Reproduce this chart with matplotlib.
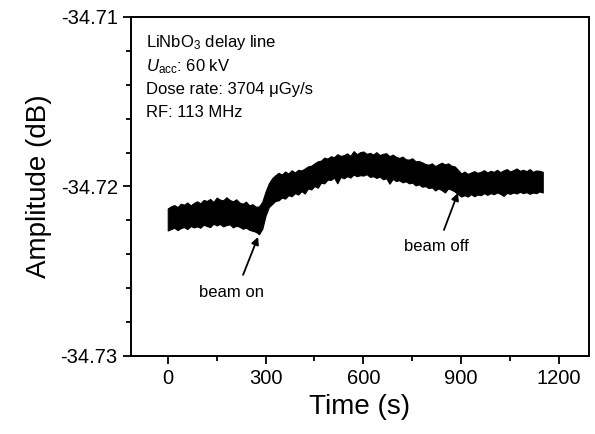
import matplotlib
matplotlib.use("Agg")
import matplotlib.pyplot as plt
import numpy as np
from matplotlib.ticker import MultipleLocator

plt.rcParams['font.family'] = ['Liberation Sans', 'DejaVu Sans']
plt.rcParams['mathtext.fontset'] = 'custom'
plt.rcParams['mathtext.rm'] = 'Liberation Sans'
plt.rcParams['mathtext.it'] = 'Liberation Sans:italic'

# time axis of the trace (s), one sample every 10 s
time_s = np.arange(0, 1151, 10)

# upper / lower edge of the noisy trace, in mdB relative to -34.72 dB
amp_hi_mdb = [
    -1.30, -1.18, -1.10, -1.22, -1.02, -1.08, -0.95, -1.12, -0.98, -0.88,
    -1.00, -0.80, -0.86, -0.74, -0.92, -0.66, -0.78, -0.82, -0.64, -0.80,
    -0.88, -0.76, -0.95, -1.02, -0.90, -1.12, -1.05, -1.20, -1.18, -0.90,
    -0.30, 0.18, 0.48, 0.66, 0.80, 0.70, 0.88, 0.76, 0.95, 0.82,
    0.98, 0.94, 1.05, 1.18, 1.22, 1.36, 1.48, 1.52, 1.70, 1.64,
    1.78, 1.72, 1.90, 1.80, 1.84, 1.95, 1.80, 2.08, 1.90, 2.02,
    2.06, 1.92, 1.98, 1.88, 2.02, 1.85, 1.92, 1.96, 1.78, 1.88,
    1.74, 1.68, 1.76, 1.60, 1.58, 1.66, 1.48, 1.50, 1.42, 1.32,
    1.28, 1.36, 1.20, 1.30, 1.40, 1.30, 1.36, 1.22, 1.18, 0.98,
    0.76, 0.88, 0.74, 0.82, 0.90, 0.80, 0.86, 0.96, 0.82, 0.92,
    0.86, 0.98, 0.84, 0.95, 1.02, 0.88, 0.96, 1.06, 0.92, 0.98,
    0.90, 1.02, 0.86, 0.94, 0.92, 0.86,
]
amp_lo_mdb = [
    -2.60, -2.52, -2.44, -2.58, -2.46, -2.40, -2.52, -2.34, -2.42, -2.36,
    -2.44, -2.26, -2.34, -2.40, -2.20, -2.30, -2.22, -2.36, -2.28, -2.24,
    -2.42, -2.32, -2.38, -2.50, -2.44, -2.56, -2.62, -2.68, -2.82, -2.50,
    -1.72, -1.22, -1.04, -0.86, -0.82, -0.66, -0.72, -0.52, -0.58, -0.40,
    -0.48, -0.28, -0.42, -0.12, -0.18, 0.02, -0.08, 0.22, 0.18, 0.40,
    0.38, 0.52, 0.18, 0.56, 0.48, 0.60, 0.52, 0.70, 0.60, 0.66,
    0.64, 0.72, 0.56, 0.60, 0.50, 0.58, 0.42, 0.48, 0.16, 0.44,
    0.32, 0.36, 0.24, 0.30, 0.18, 0.22, 0.06, 0.12, -0.02, 0.02,
    -0.10, -0.06, -0.24, -0.12, -0.22, -0.36, -0.12, -0.20, -0.30, -0.46,
    -0.60, -0.52, -0.60, -0.46, -0.58, -0.48, -0.52, -0.40, -0.50, -0.40,
    -0.46, -0.36, -0.44, -0.56, -0.38, -0.44, -0.36, -0.42, -0.32, -0.40,
    -0.34, -0.44, -0.36, -0.40, -0.30, -0.36,
]

info_lines = [
    r"LiNbO$_3$ delay line",
    r"$U_{\mathrm{acc}}$: 60 kV",
    "Dose rate: 3704 \u03bcGy/s",
    "RF: 113 MHz",
]

amp_hi = -34.72 + np.array(amp_hi_mdb) * 1e-3
amp_lo = -34.72 + np.array(amp_lo_mdb) * 1e-3

fig = plt.figure(figsize=(5.95, 4.34), dpi=100)
ax = fig.add_axes([0.220, 0.180, 0.770, 0.781])

ax.fill_between(time_s, amp_lo, amp_hi, color='black', linewidth=0.8, edgecolor='black')

ax.set_xlim(-113, 1292)
ax.set_ylim(-34.73, -34.71)
ax.xaxis.set_major_locator(MultipleLocator(300))
ax.xaxis.set_minor_locator(MultipleLocator(150))
ax.yaxis.set_major_locator(MultipleLocator(0.01))
ax.yaxis.set_minor_locator(MultipleLocator(0.002))
ax.yaxis.set_major_formatter(plt.FormatStrFormatter('%.2f'))

ax.tick_params(which='both', direction='out', top=False, right=False, width=1.3)
ax.tick_params(which='major', length=6, labelsize=14.5)
ax.tick_params(which='minor', length=3.5)
for sp in ax.spines.values():
    sp.set_linewidth(1.4)

ax.set_xlabel('Time (s)', fontsize=20, labelpad=4)
ax.set_ylabel('Amplitude (dB)', fontsize=20, labelpad=6)

ypos = [0.926, 0.853, 0.785, 0.717]
for s, yy in zip(info_lines, ypos):
    ax.text(0.033, yy, s, transform=ax.transAxes, fontsize=12, va='center', ha='left')

arrow = dict(arrowstyle='-|>', color='black', lw=1.3, mutation_scale=11, shrinkA=0, shrinkB=0)
ax.annotate('', xy=(277, -34.72298), xytext=(231, -34.72522), arrowprops=arrow)
ax.annotate('', xy=(890, -34.72038), xytext=(847, -34.72257), arrowprops=arrow)
ax.text(197, -34.72628, 'beam on', fontsize=12, ha='center', va='center')
ax.text(823, -34.72357, 'beam off', fontsize=12, ha='center', va='center')

fig.savefig('out.png', dpi=100)
